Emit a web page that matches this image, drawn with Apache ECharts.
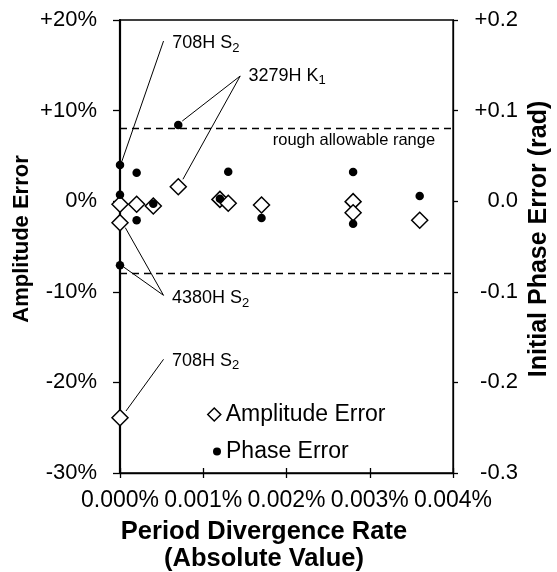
<!DOCTYPE html>
<html><head><meta charset="utf-8">
<script src="https://cdn.jsdelivr.net/npm/echarts@6/dist/echarts.min.js"></script>
<style>html,body{margin:0;padding:0;background:#fff}#c{width:557px;height:572px}</style>
</head><body><div id="c"></div>
<script>
const FONT = '"Liberation Sans", Arial, sans-serif';

// Period divergence rate (absolute value, %) for each point
const ampX = [0, 0, 0, 0.0002, 0.0004, 0.0007, 0.0012, 0.0013, 0.0017, 0.0028, 0.0028, 0.0036];
// Amplitude error (%)
const ampY = [-0.34, -2.37, -23.9, -0.34, -0.53, 1.6, 0.2, -0.23, -0.42, -0.05, -1.27, -2.1];
const phaseX = [0, 0, 0, 0.0002, 0.0002, 0.0004, 0.0007, 0.0012, 0.0013, 0.0017, 0.0028, 0.0028, 0.0036];
// Initial phase error (rad)
const phaseY = [0.040, 0.0072, -0.0707, 0.0315, -0.021, -0.0027, 0.084, 0.0028, 0.0326, -0.0185, 0.0322, -0.0248, 0.0057];
// Rough allowable range (amplitude %)
const allowRange = [8, -8];

const xTickLabels = ['0.000%', '0.001%', '0.002%', '0.003%', '0.004%'];
const leftTickLabels = ['-30%', '-20%', '-10%', '0%', '+10%', '+20%'];
const rightTickLabels = ['-0.3', '-0.2', '-0.1', '0.0', '+0.1', '+0.2'];

// Annotation labels (anchor in data coords: x %, amplitude %)
const annoMain = ['708H S', '3279H K', '4380H S', '708H S'];
const annoSub = ['2', '1', '2', '2'];
const annoX = [0.000628, 0.001544, 0.000624, 0.000624];
const annoY = [17.3, 13.7, -10.85, -17.75];
// Leader lines: [from, to] in data coords
const leaders = [
  [[0.000523, 17.68], [0.000024, 4.44]],
  [[0.001444, 13.82], [0.000748, 8.85]],
  [[0.001444, 13.82], [0.000756, 2.42]],
  [[0.000523, -10.39], [0.0000636, -2.92]],
  [[0.000523, -10.39], [0.0000432, -7.26]],
  [[0.000523, -17.45], [0.000072, -23.16]]
];
const rangeLabel = 'rough allowable range';
const rangeLabelPos = [0.003785, 6.75];

const chart = echarts.init(document.getElementById('c'), null, {renderer: 'canvas'});

const ampData = ampX.map((x, i) => [x, ampY[i]]);
const phaseData = phaseX.map((x, i) => [x, phaseY[i]]);
const annoData = annoX.map((x, i) => ({
  value: [x, annoY[i]],
  label: {formatter: '{a|' + annoMain[i] + '}{s|' + annoSub[i] + '}'}
}));
annoData.push({
  value: rangeLabelPos,
  label: {formatter: '{r|' + rangeLabel + '}', position: 'left'}
});

const option = {
  animation: false,
  backgroundColor: '#fff',
  textStyle: {fontFamily: FONT, color: '#000'},
  grid: {left: 120, right: 104, top: 20, bottom: 99, show: true, borderColor: '#000', borderWidth: 1.3, backgroundColor: 'transparent'},
  xAxis: [{
    type: 'value', min: 0, max: 0.004, interval: 0.001, position: 'bottom',
    axisLine: {show: true, onZero: false, lineStyle: {color: '#000', width: 1.3}},
    axisTick: {show: true, inside: false, length: 5, lineStyle: {color: '#000', width: 1.3}},
    axisLabel: {margin: 16, fontSize: 23, color: '#000', fontFamily: FONT,
      formatter: v => xTickLabels[Math.round(v / 0.001)]},
    splitLine: {show: false}
  }, {
    type: 'value', min: 0, max: 0.004, interval: 0.001, position: 'bottom',
    axisLine: {show: false, onZero: false},
    axisTick: {show: true, inside: true, length: 5, lineStyle: {color: '#000', width: 1.3}},
    axisLabel: {show: false}, splitLine: {show: false}
  }],
  yAxis: [{
    type: 'value', min: -30, max: 20, interval: 10, position: 'left',
    axisLine: {show: true, onZero: false, lineStyle: {color: '#000', width: 2.2}},
    axisTick: {show: true, inside: false, length: 7, lineStyle: {color: '#000', width: 1.3}},
    axisLabel: {margin: 23, fontSize: 22, color: '#000', fontFamily: FONT,
      formatter: v => leftTickLabels[Math.round((v + 30) / 10)]},
    splitLine: {show: false}
  }, {
    type: 'value', min: -0.3, max: 0.2, interval: 0.1, position: 'right',
    axisLine: {show: true, onZero: false, lineStyle: {color: '#000', width: 1.3}},
    axisTick: {show: true, inside: false, length: 5, lineStyle: {color: '#000', width: 1.3}},
    axisLabel: {margin: 65, align: 'right', fontSize: 22, color: '#000', fontFamily: FONT,
      formatter: v => rightTickLabels[Math.round((v + 0.3) / 0.1)]},
    splitLine: {show: false}
  }],
  legend: [{
    data: [{name: 'Amplitude Error', icon: 'diamond',
      itemStyle: {color: '#fff', borderColor: '#000', borderWidth: 1.5}}],
    left: 202, top: 398, orient: 'vertical', itemWidth: 13, itemHeight: 13,
    textStyle: {fontSize: 23, color: '#000', fontFamily: FONT}, selectedMode: false
  }, {
    data: [{name: 'Phase Error', icon: 'circle', itemStyle: {color: '#000', borderWidth: 0}}],
    left: 208, top: 435, orient: 'vertical', itemWidth: 8, itemHeight: 8,
    textStyle: {fontSize: 23, color: '#000', fontFamily: FONT}, selectedMode: false
  }],
  graphic: [{
    type: 'text', x: 22, y: 239, rotation: Math.PI / 2,
    style: {text: 'Amplitude Error', fontSize: 22, fontWeight: 'bold', fontFamily: FONT, fill: '#000',
      align: 'center', verticalAlign: 'middle'}
  }, {
    type: 'text', x: 539, y: 239, rotation: Math.PI / 2,
    style: {text: 'Initial Phase Error (rad)', fontSize: 25, fontWeight: 'bold', fontFamily: FONT, fill: '#000',
      align: 'center', verticalAlign: 'middle'}
  }, {
    type: 'text', x: 264, y: 545,
    style: {text: 'Period Divergence Rate\n(Absolute Value)', fontSize: 25.5, fontWeight: 'bold', fontFamily: FONT, fill: '#000',
      align: 'center', verticalAlign: 'middle', lineHeight: 27}
  }],
  series: [{
    name: 'Amplitude Error', type: 'scatter', xAxisIndex: 0, yAxisIndex: 0,
    symbol: 'diamond', symbolSize: 16, data: ampData,
    itemStyle: {color: '#fff', borderColor: '#000', borderWidth: 1.5, opacity: 1},
    z: 3
  }, {
    name: 'Phase Error', type: 'scatter', xAxisIndex: 0, yAxisIndex: 1,
    symbol: 'circle', symbolSize: 8.5, data: phaseData,
    itemStyle: {color: '#000', opacity: 1},
    z: 4
  }, {
    name: 'annotations', type: 'scatter', xAxisIndex: 0, yAxisIndex: 0,
    symbolSize: 0, data: annoData, silent: true, z: 2,
    itemStyle: {color: '#000', opacity: 1},
    label: {
      show: true, position: 'right', distance: 0, color: '#000', opacity: 1, textBorderWidth: 0,
      rich: {
        a: {fontSize: 18, fontFamily: FONT, color: '#000', verticalAlign: 'top'},
        s: {fontSize: 13, fontFamily: FONT, color: '#000', verticalAlign: 'top', padding: [7.5, 0, 0, 0]},
        r: {fontSize: 16.5, fontFamily: FONT, color: '#000'}
      }
    },
    markLine: {
      silent: true, symbol: ['none', 'none'], label: {show: false},
      lineStyle: {color: '#000', width: 1, type: 'solid', opacity: 1},
      emphasis: {disabled: true},
      data: leaders.map(l => [{coord: l[0]}, {coord: l[1]}]).concat(
        allowRange.map(v => ({yAxis: v, lineStyle: {type: [7, 5], width: 1.3, color: '#000'}})))
    }
  }]
};
chart.setOption(option);
</script></body></html>
